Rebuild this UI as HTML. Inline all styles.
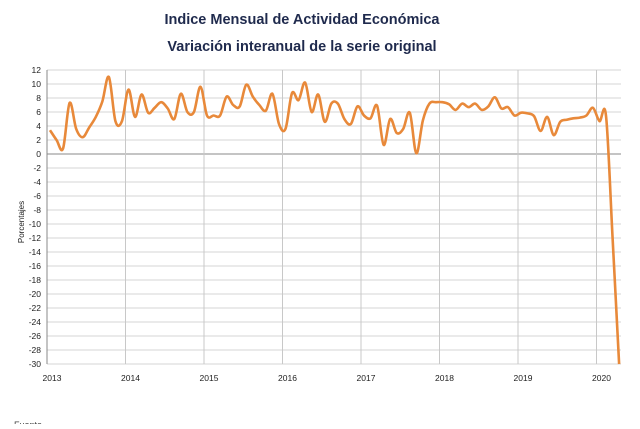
<!DOCTYPE html>
<html><head><meta charset="utf-8"><style>
body{margin:0;background:#fff;width:640px;height:424px;overflow:hidden;font-family:"Liberation Sans",sans-serif}
</style></head><body>
<svg id="c" width="640" height="424" xmlns="http://www.w3.org/2000/svg">
<text x="302" y="24" text-anchor="middle" font-size="14.5" font-weight="bold" fill="#1f2a4d">Indice Mensual de  Actividad Económica</text>
<text x="302" y="51" text-anchor="middle" font-size="14.5" font-weight="bold" fill="#1f2a4d">Variación interanual de la serie original</text>
<text transform="translate(24,222) rotate(-90)" text-anchor="middle" font-size="8" fill="#222">Porcentajes</text>
<text x="14" y="428" font-size="9" fill="#444">Fuente</text>
<g id="grid"></g><g id="axes"></g><g id="series"></g>
</svg>
<script>
const yTicks=[12,10,8,6,4,2,0,-2,-4,-6,-8,-10,-12,-14,-16,-18,-20,-22,-24,-26,-28,-30];
const years=["2013","2014","2015","2016","2017","2018","2019","2020"];
const values=[3.4,2.0,0.8,7.3,3.6,2.4,3.8,5.3,7.5,11.0,4.7,4.7,
9.2,5.3,8.5,5.9,6.6,7.4,6.5,5.0,8.6,6.0,6.0,9.6,
5.5,5.5,5.5,8.2,7.0,6.8,9.9,8.2,7.0,6.2,8.6,4.3,
3.6,8.7,7.7,10.2,6.0,8.5,4.6,7.2,7.2,5.0,4.3,6.8,
5.5,5.1,6.9,1.3,5.0,3.0,3.6,5.9,0.1,4.8,7.2,7.4,
7.4,7.1,6.3,7.2,6.7,7.2,6.3,6.8,8.1,6.5,6.7,5.5,
5.9,5.8,5.4,3.3,5.3,2.7,4.6,4.9,5.1,5.2,5.5,6.6,
4.7,5.4,-12,-30];
const NS="http://www.w3.org/2000/svg";
const L=47,R=621,T=70,B=364,yMin=-30,yMax=12,yearW=78.5;
const y=v=>T+(yMax-v)/(yMax-yMin)*(B-T);
const x=i=>L+3+i*yearW/12;
function el(t,a,p){const e=document.createElementNS(NS,t);for(const k in a)e.setAttribute(k,a[k]);p.appendChild(e);return e;}
const g=document.getElementById('grid'),ax=document.getElementById('axes'),s=document.getElementById('series');
yTicks.forEach(v=>{
 const ln=el('line',{x1:L,x2:R,y1:y(v),y2:y(v),stroke:v===0?'#888':'#d4d4d4','stroke-width':v===0?1:1},g);
 
 
 const t=el('text',{x:L-6,y:y(v)+3,'text-anchor':'end','font-size':8.5,fill:'#222'},ax);
 t.textContent=v;
 
 
});
years.forEach((yr,i)=>{
 const xx=L+i*yearW;
 const ln=el('line',{x1:xx,x2:xx,y1:T,y2:B,stroke:i===0?'#888':'#c8c8c8','stroke-width':1},g);
 
 
 const t=el('text',{x:xx+5,y:B+17,'text-anchor':'middle','font-size':8.5,fill:'#222'},ax);
 t.textContent=yr;
 
 
});
const pts=values.map((v,i)=>[x(i),y(v)]);
let d='M'+pts[0][0]+','+pts[0][1];
for(let i=0;i<pts.length-1;i++){
 const p0=pts[Math.max(0,i-1)],p1=pts[i],p2=pts[i+1],p3=pts[Math.min(pts.length-1,i+2)];
 const c1=[p1[0]+(p2[0]-p0[0])/6,p1[1]+(p2[1]-p0[1])/6],c2=[p2[0]-(p3[0]-p1[0])/6,p2[1]-(p3[1]-p1[1])/6];
 d+=`C${c1[0]},${c1[1]} ${c2[0]},${c2[1]} ${p2[0]},${p2[1]}`;
}
const path=el('path',{d:d,fill:'none',stroke:'#e8893a','stroke-width':2.6,'stroke-linejoin':'round'},s);


</script>
</body></html>
